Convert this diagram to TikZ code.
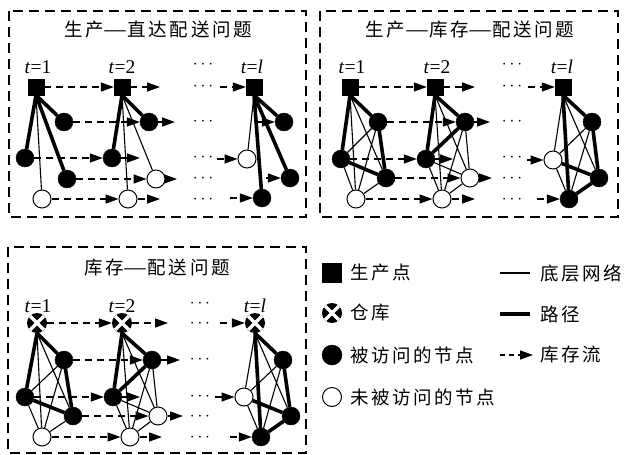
\documentclass[tikz,border=0pt]{standalone}
\usepackage{fontspec}
\setmainfont{Liberation Serif}
\newfontfamily\cjk[LetterSpace=14]{Noto Sans CJK SC}
\usetikzlibrary{arrows.meta}
\pgfdeclarelayer{bg}
\pgfsetlayers{bg,main}
\newcommand{\longdash}{\scalebox{1.45}[1]{—}}
\begin{document}
\begin{tikzpicture}[x=1pt,y=-1pt,
  prod/.style={rectangle, draw, fill=black, minimum size=16pt, inner sep=0pt},
  vis/.style={circle, draw, fill=black, minimum size=18pt, inner sep=0pt},
  unv/.style={circle, draw, line width=1pt, fill=white, minimum size=18pt, inner sep=0pt},
  wh/.style={circle, fill=black, minimum size=20pt, inner sep=0pt,
    path picture={\draw[white, line width=3.5pt]
      (path picture bounding box.north west) -- (path picture bounding box.south east)
      (path picture bounding box.north east) -- (path picture bounding box.south west);}},
  thn/.style={line width=1.1pt},
  thk/.style={line width=3.6pt},
  flow/.style={line width=1.3pt, dash pattern=on 7pt off 5pt, -{Triangle[length=13pt,width=9pt]}},
  panel/.style={line width=1.6pt, dash pattern=on 10pt off 6pt},
  ttl/.style={font=\cjk\fontsize{18.5}{20}\selectfont, inner sep=0pt},
  tlab/.style={font=\fontsize{19.5}{20}\selectfont, inner sep=0pt},
  dots/.style={font=\fontsize{16}{16}\selectfont, inner sep=0pt},
  leg/.style={font=\cjk\fontsize{18.5}{20}\selectfont, anchor=west, inner sep=0pt}
]
\useasboundingbox (0,0) rectangle (629,455);

% panel frames
\draw[panel] (9,11) rectangle (306,217);
\draw[panel] (320,11) rectangle (618,217);
\draw[panel] (8,247) rectangle (306,453);

\node[ttl] (ti1) at (158,30) {生产\longdash 直达配送问题};
\node[ttl] (ti2) at (470,30) {生产\longdash 库存\longdash 配送问题};
\node[ttl] (ti3) at (157,268) {库存\longdash 配送问题};

% ================= Panel 1 =================
\node[tlab] (a-t1) at (38,67) {\textit{t}=1};
\node[tlab] (a-t2) at (122,67) {\textit{t}=2};
\node[tlab] (a-tl) at (252,67) {\textit{t}=\textit{l}};
\foreach \yy [count=\i] in {65,87,122,158,179,200} \node[dots] (a-dots\i) at (203,\yy) {$\cdots$};

\node[prod] (a-p1) at (36,87) {};
\node[vis] (a-a1) at (64,122) {};
\node[vis] (a-b1) at (25,158) {};
\node[vis] (a-c1) at (67,179) {};
\node[unv] (a-d1) at (42,199) {};
\node[prod] (a-p2) at (122,87) {};
\node[vis] (a-a2) at (149,122) {};
\node[vis] (a-b2) at (112,158) {};
\node[unv] (a-c2) at (156,179) {};
\node[unv] (a-d2) at (128,199) {};
\node[prod] (a-pl) at (254,87) {};
\node[vis] (a-al) at (284,122) {};
\node[unv] (a-bl) at (247,159) {};
\node[vis] (a-cl) at (290,178) {};
\node[vis] (a-dl) at (262,198) {};

\coordinate (a-op) at (160,87);
\coordinate (a-oa) at (175,122);
\coordinate (a-ob) at (140,158);
\coordinate (a-oc) at (177,179);
\coordinate (a-od) at (160,199);
\coordinate (a-ip) at (220,87);
\coordinate (a-ia) at (258,122);
\coordinate (a-ib) at (217,159);
\coordinate (a-ic) at (266,178);
\coordinate (a-id) at (230,198);

% ================= Panel 2 =================
\node[tlab] (b-t1) at (352,67) {\textit{t}=1};
\node[tlab] (b-t2) at (437,67) {\textit{t}=2};
\node[tlab] (b-tl) at (562,67) {\textit{t}=\textit{l}};
\foreach \yy [count=\i] in {65,87,122,158,179,200} \node[dots] (b-dots\i) at (512,\yy) {$\cdots$};

\node[prod] (b-p1) at (350,87) {};
\node[vis] (b-a1) at (378,122) {};
\node[vis] (b-b1) at (341,159) {};
\node[vis] (b-c1) at (386,178) {};
\node[unv] (b-d1) at (356,199) {};
\node[prod] (b-p2) at (435,87) {};
\node[vis] (b-a2) at (465,122) {};
\node[vis] (b-b2) at (426,159) {};
\node[unv] (b-c2) at (470,178) {};
\node[unv] (b-d2) at (442,199) {};
\node[prod] (b-pl) at (563,87) {};
\node[vis] (b-al) at (592,122) {};
\node[unv] (b-bl) at (553,160) {};
\node[vis] (b-cl) at (599,178) {};
\node[vis] (b-dl) at (569,199) {};

\coordinate (b-op) at (475,87);
\coordinate (b-oa) at (490,122);
\coordinate (b-ob) at (453,159);
\coordinate (b-oc) at (492,178);
\coordinate (b-od) at (475,199);
\coordinate (b-ip) at (528,87);
\coordinate (b-ib) at (527,160);
\coordinate (b-id) at (537,199);

% ================= Panel 3 =================
\node[tlab] (c-t1) at (38,306) {\textit{t}=1};
\node[tlab] (c-t2) at (122,306) {\textit{t}=2};
\node[tlab] (c-tl) at (255,306) {\textit{t}=\textit{l}};
\foreach \yy [count=\i] in {304,324,360,397,417,438} \node[dots] (c-dots\i) at (200,\yy) {$\cdots$};

\node[wh] (c-p1) at (37,323) {};
\node[vis] (c-a1) at (64,360) {};
\node[vis] (c-b1) at (25,397) {};
\node[vis] (c-c1) at (73,416) {};
\node[unv] (c-d1) at (42,437) {};
\node[wh] (c-p2) at (122,323) {};
\node[vis] (c-a2) at (152,360) {};
\node[vis] (c-b2) at (113,397) {};
\node[unv] (c-c2) at (158,416) {};
\node[unv] (c-d2) at (130,437) {};
\node[wh] (c-pl) at (255,323) {};
\node[vis] (c-al) at (283,360) {};
\node[unv] (c-bl) at (244,397) {};
\node[vis] (c-cl) at (291,416) {};
\node[vis] (c-dl) at (261,437) {};

\coordinate (c-op) at (168,323);
\coordinate (c-oa) at (180,360);
\coordinate (c-ob) at (140,397);
\coordinate (c-oc) at (183,416);
\coordinate (c-od) at (162,437);
\coordinate (c-ip) at (220,323);
\coordinate (c-ib) at (215,397);
\coordinate (c-id) at (230,437);

% ================= Legend =================
\node[prod, minimum size=19pt] (l-p) at (332,273) {};
\node[wh, minimum size=20pt] (l-w) at (332,313) {};
\node[vis, minimum size=20pt] (l-v) at (332,355) {};
\node[unv, minimum size=19pt] (l-u) at (332,397) {};
\node[leg] (l-tp) at (350,273) {生产点};
\node[leg] (l-tw) at (350,313) {仓库};
\node[leg] (l-tv) at (350,355) {被访问的节点};
\node[leg] (l-tu) at (350,397) {未被访问的节点};
\coordinate (l-s1) at (500,273); \coordinate (l-e1) at (530,273);
\coordinate (l-s2) at (500,314); \coordinate (l-e2) at (530,314);
\coordinate (l-s3) at (500,355); \coordinate (l-e3) at (533,355);
\draw[thn] (l-s1) -- (l-e1);
\draw[thk] (l-s2) -- (l-e2);
\draw[flow, dash pattern=on 5pt off 4pt] (l-s3) -- (l-e3);
\node[leg] (l-t1) at (540,273) {底层网络};
\node[leg] (l-t2) at (540,314) {路径};
\node[leg] (l-t3) at (540,355) {库存流};

\begin{pgfonlayer}{bg}
% ---- panel 1 edges
\draw[thk] (a-p1.south) -- (a-a1) (a-p1.south) -- (a-b1) (a-p1.south) -- (a-c1);
\draw[thn] (a-p1.south) -- (a-d1);
\draw[thk] (a-p2.south) -- (a-a2) (a-p2.south) -- (a-b2);
\draw[thn] (a-p2.south) -- (a-c2) (a-p2.south) -- (a-d2);
\draw[thk] (a-pl.south) -- (a-al) (a-pl.south) -- (a-cl) (a-pl.south) -- (a-dl);
\draw[thn] (a-pl.south) -- (a-bl);
% ---- panel 2 and 3 edges
\foreach \q in {b,c}{
  \draw[thk] (\q-p1.south) -- (\q-a1) (\q-p1.south) -- (\q-b1) (\q-a1) -- (\q-c1) (\q-b1) -- (\q-c1);
  \draw[thn] (\q-p1.south) -- (\q-c1) (\q-p1.south) -- (\q-d1) (\q-a1) -- (\q-b1) (\q-a1) -- (\q-d1) (\q-b1) -- (\q-d1) (\q-c1) -- (\q-d1);
  \draw[thk] (\q-p2.south) -- (\q-b2) (\q-b2) -- (\q-a2) (\q-a2) -- (\q-p2.south);
  \draw[thn] (\q-p2.south) -- (\q-c2) (\q-p2.south) -- (\q-d2) (\q-a2) -- (\q-c2) (\q-a2) -- (\q-d2) (\q-b2) -- (\q-c2) (\q-b2) -- (\q-d2) (\q-c2) -- (\q-d2);
  \draw[thk] (\q-pl.south) -- (\q-al) (\q-al) -- (\q-cl) (\q-cl) -- (\q-dl) (\q-dl) -- (\q-pl.south) (\q-bl) -- (\q-cl);
  \draw[thn] (\q-pl.south) -- (\q-bl) (\q-pl.south) -- (\q-cl) (\q-al) -- (\q-bl) (\q-al) -- (\q-dl) (\q-bl) -- (\q-dl);
}
% ---- inventory flows
\foreach \q in {a,b,c}{
  \draw[flow] (\q-p1) -- (\q-p2);
  \draw[flow] (\q-a1) -- (\q-a2);
  \draw[flow] (\q-b1) -- (\q-b2);
  \draw[flow] (\q-c1) -- (\q-c2);
  \draw[flow] (\q-d1) -- (\q-d2);
  \draw[flow] (\q-p2) -- (\q-op);
  \draw[flow] (\q-a2) -- (\q-oa);
  \draw[flow] (\q-b2) -- (\q-ob);
  \draw[flow] (\q-c2) -- (\q-oc);
  \draw[flow] (\q-d2) -- (\q-od);
  \draw[flow] (\q-ip) -- (\q-pl);
  \draw[flow] (\q-ib) -- (\q-bl);
  \draw[flow] (\q-id) -- (\q-dl);
}
\draw[flow] (a-ia) -- (a-al);
\draw[flow] (a-ic) -- (a-cl);
\end{pgfonlayer}
\end{tikzpicture}
\end{document}
